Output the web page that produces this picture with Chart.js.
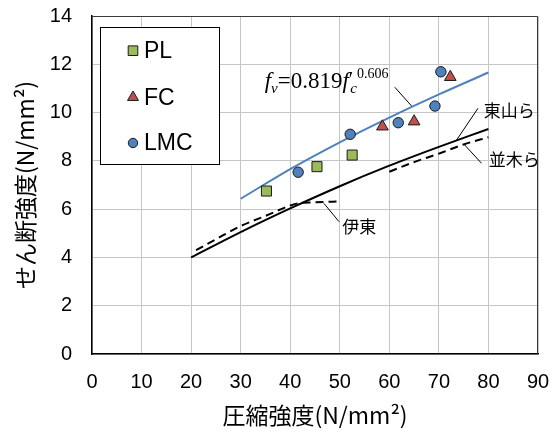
<!DOCTYPE html>
<html>
<head>
<meta charset="utf-8">
<script src="https://cdn.jsdelivr.net/npm/chart.js@4/dist/chart.umd.min.js"></script>
<style>
  html, body { margin: 0; padding: 0; background: #fff; }
  #c { display: block; }
</style>
</head>
<body>
<canvas id="c" width="552" height="435"></canvas>
<script>
// Axis ranges and tick steps
const xMin = 0, xMax = 90, xStep = 10;
const yMin = 0, yMax = 14, yStep = 2;

// Test series: compressive strength (x) vs shear strength (y)
const plX  = [35.2, 45.4, 52.5];
const plY  = [6.75, 7.76, 8.24];
const fcX  = [58.6, 65.0, 72.3];
const fcY  = [9.42, 9.63, 11.47];
const lmcX = [41.6, 52.1, 61.8, 69.2, 70.4];
const lmcY = [7.53, 9.10, 9.58, 10.27, 11.69];

// Regression curve fv = 0.819 fc'^0.606
const fitX = [30, 40, 50, 60, 70, 80];
const fitY = [6.43, 7.66, 8.77, 9.79, 10.75, 11.66];

// Reference curves from earlier studies
const higashiX = [20, 30, 40, 50, 60, 70, 80];
const higashiY = [4.0, 5.05, 6.03, 6.95, 7.8, 8.58, 9.32];
const itoX = [21, 25, 30, 35, 40, 41.5, 45, 50];
const itoY = [4.3, 4.75, 5.3, 5.72, 6.15, 6.24, 6.28, 6.32];
const namikiX = [60, 65, 70, 75, 80];
const namikiY = [7.55, 7.95, 8.3, 8.68, 8.98];

// Curve labels: text and leader-line ends in data units
const curveLabels = [
  { text: '東山ら', x: 79.05, y: 10.08, from: [77.9, 10.18], to: [73.5, 8.84] },
  { text: '並木ら', x: 80.06, y: 8.04,  from: [78.6, 7.9],   to: [75.2, 8.66] },
  { text: '伊東',   x: 50.5,  y: 5.27,  from: [49.85, 5.48], to: [46.8, 6.24] }
];
const formulaAnchor = { x: 34.85, y: 11.02, from: [61.1, 11.05], to: [64.5, 10.27] };

const pts = (xs, ys) => xs.map((x, i) => ({ x, y: ys[i] }));

const GREEN = '#9BBB59', RED = '#C0504D', BLUE = '#4F81BD', EDGE = '#1a1a1a';
const LATIN = '"Liberation Sans", Arial, sans-serif';
const JP = '"Noto Sans CJK JP", sans-serif';
const SERIF = '"Liberation Serif", "Times New Roman", serif';

// Frame: top and right edges of the plot area
const framePlugin = {
  id: 'frame',
  beforeDatasetsDraw(chart) {
    const { ctx, chartArea: a } = chart;
    ctx.save();
    ctx.strokeStyle = '#3a3a3a';
    ctx.lineWidth = 1;
    ctx.beginPath();
    ctx.moveTo(a.left, a.top + 0.5);
    ctx.lineTo(a.right - 0.5, a.top + 0.5);
    ctx.lineTo(a.right - 0.5, a.bottom);
    ctx.stroke();
    ctx.restore();
  }
};

// Legend box for the marker series
const legendBoxPlugin = {
  id: 'legendBox',
  afterDatasetsDraw(chart) {
    const { ctx, chartArea: a } = chart;
    const left = a.left + 8.5, top = a.top + 11.5, w = 119, h = 137;
    ctx.save();
    ctx.fillStyle = '#fff';
    ctx.fillRect(left, top, w, h);
    ctx.strokeStyle = '#000';
    ctx.lineWidth = 1;
    ctx.strokeRect(left, top, w, h);
    const entries = chart.data.datasets.filter(d => d.inLegend);
    const rows = [top + 23.2, top + 69.8, top + 115.5];
    entries.forEach((d, i) => {
      const cy = rows[i];
      ctx.fillStyle = d.backgroundColor;
      ctx.strokeStyle = d.borderColor;
      ctx.lineWidth = 1;
      Chart.helpers.drawPoint(ctx, { pointStyle: d.pointStyle, radius: d.legendRadius, rotation: 0, borderWidth: 1 }, left + 32.5, cy);
      ctx.fillStyle = '#000';
      ctx.font = '23px ' + LATIN;
      ctx.textBaseline = 'middle';
      ctx.textAlign = 'left';
      ctx.fillText(d.label, left + 43.5, cy + 1);
    });
    ctx.restore();
  }
};

// Formula text and curve labels with leader lines
const labelsPlugin = {
  id: 'curveLabels',
  afterDatasetsDraw(chart) {
    const { ctx, scales: { x, y } } = chart;
    const px = v => x.getPixelForValue(v), py = v => y.getPixelForValue(v);
    ctx.save();
    ctx.strokeStyle = '#000';
    ctx.lineWidth = 1;
    const leader = (f, t) => {
      ctx.beginPath();
      ctx.moveTo(px(f[0]), py(f[1]));
      ctx.lineTo(px(t[0]), py(t[1]));
      ctx.stroke();
    };
    curveLabels.forEach(l => {
      leader(l.from, l.to);
      ctx.fillStyle = '#000';
      ctx.font = '17px ' + JP;
      ctx.textBaseline = 'middle';
      ctx.textAlign = 'left';
      ctx.fillText(l.text, px(l.x), py(l.y));
    });

    // fv = 0.819 f'c ^0.606
    leader(formulaAnchor.from, formulaAnchor.to);
    let cx = px(formulaAnchor.x);
    const base = py(formulaAnchor.y);
    ctx.textBaseline = 'alphabetic';
    ctx.fillStyle = '#000';
    const run = (txt, font, dy) => {
      ctx.font = font;
      ctx.fillText(txt, cx, base + dy);
      cx += ctx.measureText(txt).width;
    };
    run('f', 'italic 23px ' + SERIF, 0);
    run('v', 'italic 15px ' + SERIF, 5);
    run('=0.819', '23px ' + SERIF, 0);
    run('f', 'italic 23px ' + SERIF, 0);
    run('\u2032', '20px ' + SERIF, -2);
    cx -= 3;
    run('c', 'italic 15px ' + SERIF, 5);
    run('0.606', '14px ' + SERIF, -10);
    ctx.restore();
  }
};

const lineDs = (label, xs, ys, color, dash, order) => ({
  type: 'line',
  label,
  data: pts(xs, ys),
  borderColor: color,
  borderWidth: 2,
  borderDash: dash,
  pointRadius: 0,
  fill: false,
  showLine: true,
  cubicInterpolationMode: 'monotone',
  order
});

const markerDs = (label, xs, ys, style, fill, r, lr, order) => ({
  type: 'scatter',
  label,
  data: pts(xs, ys),
  pointStyle: style,
  pointRadius: r,
  pointHoverRadius: r,
  backgroundColor: fill,
  borderColor: EDGE,
  borderWidth: 1,
  inLegend: true,
  legendRadius: lr,
  order
});

new Chart(document.getElementById('c'), {
  type: 'scatter',
  data: {
    datasets: [
      markerDs('PL', plX, plY, 'rect', GREEN, 7.1, 6.8, 1),
      markerDs('FC', fcX, fcY, 'triangle', RED, 6.75, 6.3, 1),
      markerDs('LMC', lmcX, lmcY, 'circle', BLUE, 5.2, 4.7, 1),
      lineDs('fit', fitX, fitY, BLUE, [], 2),
      lineDs('東山ら', higashiX, higashiY, '#000', [], 3),
      lineDs('伊東', itoX, itoY, '#000', [8, 5], 3),
      lineDs('並木ら', namikiX, namikiY, '#000', [8, 5], 3)
    ]
  },
  options: {
    responsive: false,
    animation: false,
    events: [],
    layout: { padding: { left: 0, right: 14, top: 16, bottom: 0 } },
    plugins: { legend: { display: false }, tooltip: { enabled: false } },
    scales: {
      x: {
        type: 'linear', min: xMin, max: xMax,
        ticks: { stepSize: xStep, color: '#000', font: { family: LATIN, size: 20 }, padding: 0, maxRotation: 0 },
        grid: { color: '#c6c6c6', lineWidth: 1, drawTicks: true, tickLength: 16, tickColor: 'rgba(0,0,0,0)' },
        border: { color: '#000', width: 1.5 },
        title: { display: true, text: '圧縮強度(N/mm²)', color: '#000', font: { family: JP, size: 23 }, padding: { top: 0, bottom: 6 } },
        afterFit: s => { s.height = 81; }
      },
      y: {
        type: 'linear', min: yMin, max: yMax,
        ticks: { stepSize: yStep, color: '#000', font: { family: LATIN, size: 20 }, padding: 0 },
        grid: { color: '#c6c6c6', lineWidth: 1, drawTicks: true, tickLength: 20, tickColor: 'rgba(0,0,0,0)' },
        border: { color: '#000', width: 1.5 },
        title: { display: true, text: 'せん断強度(N/mm²)', color: '#000', font: { family: JP, size: 23 }, padding: { top: 11, bottom: 0 } },
        afterFit: s => { s.width = 92; }
      }
    }
  },
  plugins: [framePlugin, legendBoxPlugin, labelsPlugin]
});
</script>
</body>
</html>
